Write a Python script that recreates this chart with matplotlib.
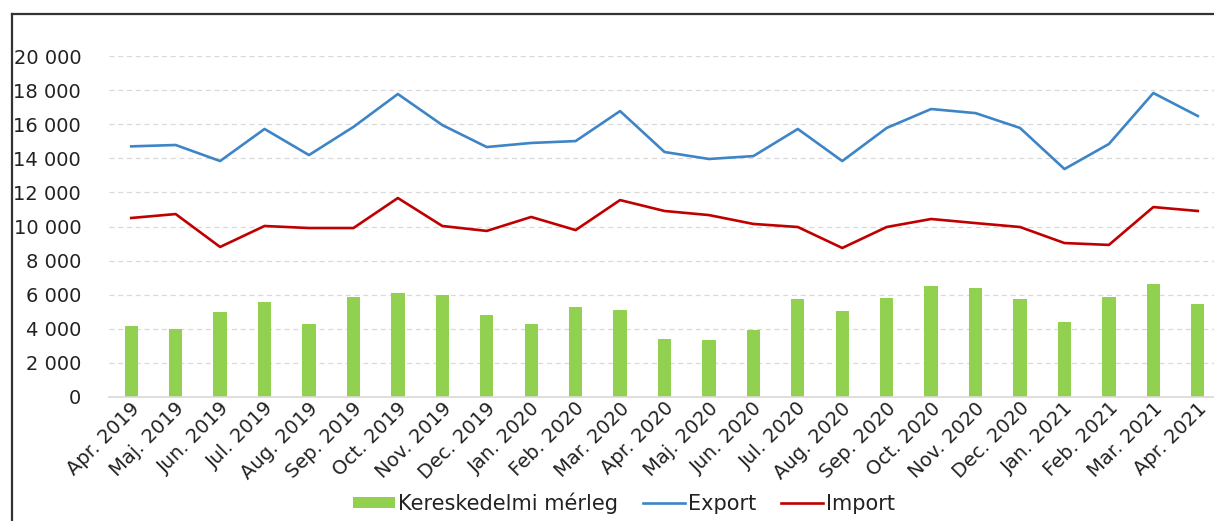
import numpy as np
import matplotlib
matplotlib.use('Agg')
import matplotlib.pyplot as plt
import matplotlib.transforms as mtransforms
from matplotlib.lines import Line2D
from matplotlib.ticker import FuncFormatter

months = ['Apr. 2019', 'Maj. 2019', 'Jun. 2019', 'Jul. 2019', 'Aug. 2019',
          'Sep. 2019', 'Oct. 2019', 'Nov. 2019', 'Dec. 2019', 'Jan. 2020',
          'Feb. 2020', 'Mar. 2020', 'Apr. 2020', 'Maj. 2020', 'Jun. 2020',
          'Jul. 2020', 'Aug. 2020', 'Sep. 2020', 'Oct. 2020', 'Nov. 2020',
          'Dec. 2020', 'Jan. 2021', 'Feb. 2021', 'Mar. 2021', 'Apr. 2021']

balance = [4160, 3990, 4990, 5570, 4280, 5870, 6100, 5980, 4810, 4280,
           5280, 5100, 3400, 3340, 3930, 5750, 5040, 5800, 6510, 6390,
           5750, 4400, 5870, 6630, 5450]

export = [14700, 14780, 13840, 15720, 14190, 15840, 17770, 15950, 14660, 14900,
          15010, 16770, 14370, 13960, 14130, 15720, 13840, 15780, 16890, 16650,
          15780, 13370, 14840, 17830, 16480]

imports = [10500, 10730, 8800, 10030, 9910, 9910, 11670, 10030, 9740, 10560,
           9790, 11550, 10910, 10670, 10150, 9970, 8740, 9970, 10440, 10200,
           9970, 9030, 8920, 11140, 10910]

plt.rcParams['font.family'] = ['DejaVu Sans']
FS = 14
TXT = '#222222'

fig = plt.figure(figsize=(12.14, 5.21), dpi=100)
W, H = 1214, 521

# outer frame: only left and top edges are inside the picture
fx, fy = 11.5 / W, 1 - 14 / H
fig.add_artist(Line2D([fx, fx], [-0.05, fy], transform=fig.transFigure,
                      color='#333333', linewidth=1.6))
fig.add_artist(Line2D([fx, 1.05], [fy, fy], transform=fig.transFigure,
                      color='#333333', linewidth=1.6))

left, right, bottom, top = 109, 1220, 397, 56
ax = fig.add_axes([left / W, 1 - bottom / H, (right - left) / W, (bottom - top) / H])

x = np.arange(len(months))
ax.bar(x, balance, width=0.3, color='#92D050', label='Kereskedelmi mérleg', zorder=2)
ax.plot(x, export, color='#3D85C6', linewidth=1.9, label='Export', zorder=3)
ax.plot(x, imports, color='#C00000', linewidth=1.9, label='Import', zorder=3)

ax.set_xlim(-0.5, len(months) - 0.5)
ax.set_ylim(0, 20000)
ax.set_yticks(np.arange(0, 20001, 2000))
ax.yaxis.set_major_formatter(FuncFormatter(lambda v, p: f'{int(v):,}'.replace(',', ' ')))
ax.grid(axis='y', color='#D9D9D9', linestyle=(0, (4, 3)), linewidth=0.9, zorder=0)
ax.set_axisbelow(True)

for s in ['top', 'right', 'left']:
    ax.spines[s].set_visible(False)
ax.spines['bottom'].set_color('#D9D9D9')
ax.spines['bottom'].set_linewidth(1.2)

ax.tick_params(axis='y', length=0, pad=20, labelsize=FS, labelcolor=TXT)
ax.tick_params(axis='x', length=0, pad=6, labelsize=FS, labelcolor=TXT)
ax.set_xticks(x)
ax.set_xticklabels(months, rotation=45, ha='right', va='center', rotation_mode='anchor')
offset = mtransforms.ScaledTranslation(6 / 100, 0, fig.dpi_scale_trans)
for lbl in ax.get_xticklabels():
    lbl.set_transform(lbl.get_transform() + offset)

handles, labels = ax.get_legend_handles_labels()
order = [labels.index(n) for n in ['Kereskedelmi mérleg', 'Export', 'Import']]
fig.legend([handles[i] for i in order], [labels[i] for i in order],
           loc='center', bbox_to_anchor=(624 / W, 1 - 503 / H), ncol=3, frameon=False,
           fontsize=15, handlelength=2.0, handleheight=0.45, columnspacing=1.2,
           handletextpad=0.15, labelcolor=TXT)

fig.savefig('out.png', dpi=100)
